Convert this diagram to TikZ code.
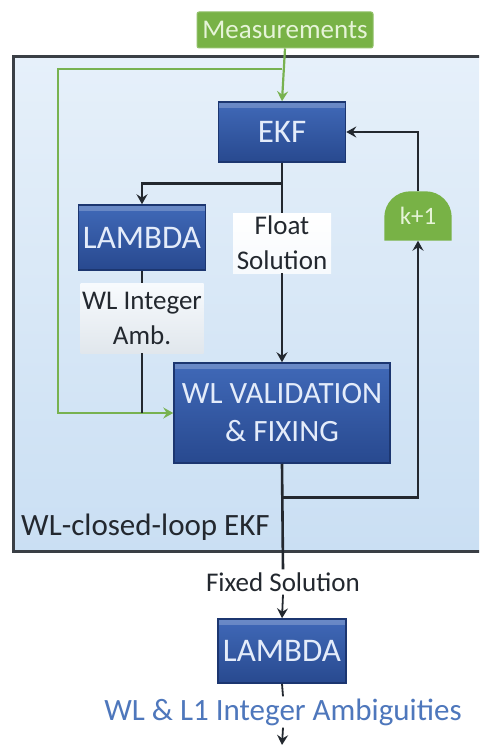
\documentclass[tikz,border=0pt]{standalone}
\usepackage{fontspec}
\setmainfont{Carlito}
\usetikzlibrary{arrows.meta}
\definecolor{boxtop}{HTML}{4069B8}
\definecolor{boxbot}{HTML}{28498F}
\definecolor{boxline}{HTML}{1C3670}
\definecolor{boxtext}{HTML}{E4ECFA}
\definecolor{gfill}{HTML}{78B246}
\definecolor{gline}{HTML}{78B250}
\definecolor{gtext}{HTML}{E6F4D8}
\definecolor{ink}{HTML}{23282F}
\definecolor{framel}{HTML}{3A3F45}
\definecolor{bgtop}{HTML}{E6F0FA}
\definecolor{bgbot}{HTML}{CADFF3}
\definecolor{titleblue}{HTML}{4E77BC}
\tikzset{
  bluebox/.style={draw=boxline, line width=1.5pt, top color=boxtop, bottom color=boxbot,
    text=boxtext, inner sep=0pt, align=center, font=\fontsize{31}{38}\selectfont,
    path picture={\fill[white,opacity=0.22] (path picture bounding box.north west) rectangle ([yshift=-6pt]path picture bounding box.north east);}},
  lbl/.style={inner sep=0pt, align=center, text=ink, font=\fontsize{27}{35}\selectfont},
  conn/.style={draw=ink, line width=2.6pt},
  gconn/.style={draw=gline, line width=2.2pt},
  arr/.style={-{Stealth[length=10pt,width=11pt,inset=3.5pt]}},
}
\begin{document}
\begin{tikzpicture}[x=1pt,y=-1pt]
\useasboundingbox (0,0) rectangle (479,746);
\clip (0,0) rectangle (479,746);
\fill[white] (0,0) rectangle (479,746);
% frame
\node[draw=framel, line width=3pt, top color=bgtop, bottom color=bgbot, minimum width=480pt, minimum height=494pt, inner sep=0pt] (frame) at (253,304) {};
\node[anchor=west, inner sep=0pt, text=ink, font=\fontsize{31}{36}\selectfont] (framelbl) at (21,527) {WL-closed-loop EKF};
% nodes
\node[draw=gfill!80!white, line width=1pt, fill=gfill, rounded corners=2pt, minimum width=176pt, minimum height=36pt, inner sep=0pt, text=gtext, font=\fontsize{27}{30}\selectfont] (meas) at (285,30) {Measurements};
\node[bluebox, minimum width=127pt, minimum height=60pt, font=\fontsize{33}{38}\selectfont] (ekf) at (282,132) {EKF};
\node[bluebox, minimum width=127pt, minimum height=65pt, font=\fontsize{33}{38}\selectfont] (lam1) at (142,237.5) {LAMBDA};
\node[lbl, top color=white, bottom color=white!85!bgbot, minimum width=98pt, minimum height=60pt] (float) at (282,243) {Float\\Solution};
\node[lbl, top color=white!70!bgtop, bottom color=bgbot!70!gray!40!white, minimum width=123pt, minimum height=70pt] (wlint) at (142,318) {WL Integer\\Amb.};
\node[bluebox, minimum width=216pt, minimum height=100pt] (wlv) at (282,413) {WL VALIDATION\\\& FIXING};
\node[minimum width=67pt, minimum height=49pt, inner sep=0pt] (kp) at (418,216) {};
\fill[gfill] (kp.south west) {[rounded corners=26pt] -- (kp.north west) -- (kp.north east)} -- (kp.south east) -- cycle;
\node[text=gtext, font=\fontsize{25}{28}\selectfont, inner sep=0pt] (kplbl) at (kp.center) {k+1};
\node[lbl, font=\fontsize{27}{30}\selectfont, inner sep=3pt] (fixed) at (283,582) {Fixed Solution};
\node[bluebox, minimum width=128pt, minimum height=64pt, font=\fontsize{33}{38}\selectfont] (lam2) at (282,651) {LAMBDA};
\node[inner sep=2pt, text=titleblue, font=\fontsize{31}{36}\selectfont] (title) at (283,712) {WL \& L1 Integer Ambiguities};
\coordinate (gsplit) at (282,69);
\coordinate (gleft) at (58,69);
\coordinate (endpt) at (282,745);
% green connectors
\draw[gconn, arr] (meas.south) -- (ekf.north);
\draw[gconn, arr] (gsplit) -- (gleft) |- (wlv.west);
% black connectors
\draw[conn, arr] (ekf.south) -- ++(0,21) -| (lam1.north);
\draw[conn] (ekf.south) -- (float.north);
\draw[conn, arr] (float.south) -- (wlv.north);
\draw[conn] (lam1.south) -- (wlint.north);
\draw[conn] (wlint.south) -- (wlint.south |- wlv.west);
\draw[conn, arr] (wlv.south) -- ++(0,34) -| (kp.south);
\draw[conn, arr] (kp.north) |- (ekf.east);
\draw[conn] (wlv.south) -- (fixed.north);
\draw[conn, arr, line width=1.8pt] (fixed.south) -- (lam2.north);
\draw[conn, line width=1.8pt] (lam2.south) -- (title.north);
\draw[conn, arr, line width=1.8pt] (title.south) -- (endpt);
\end{tikzpicture}
\end{document}
